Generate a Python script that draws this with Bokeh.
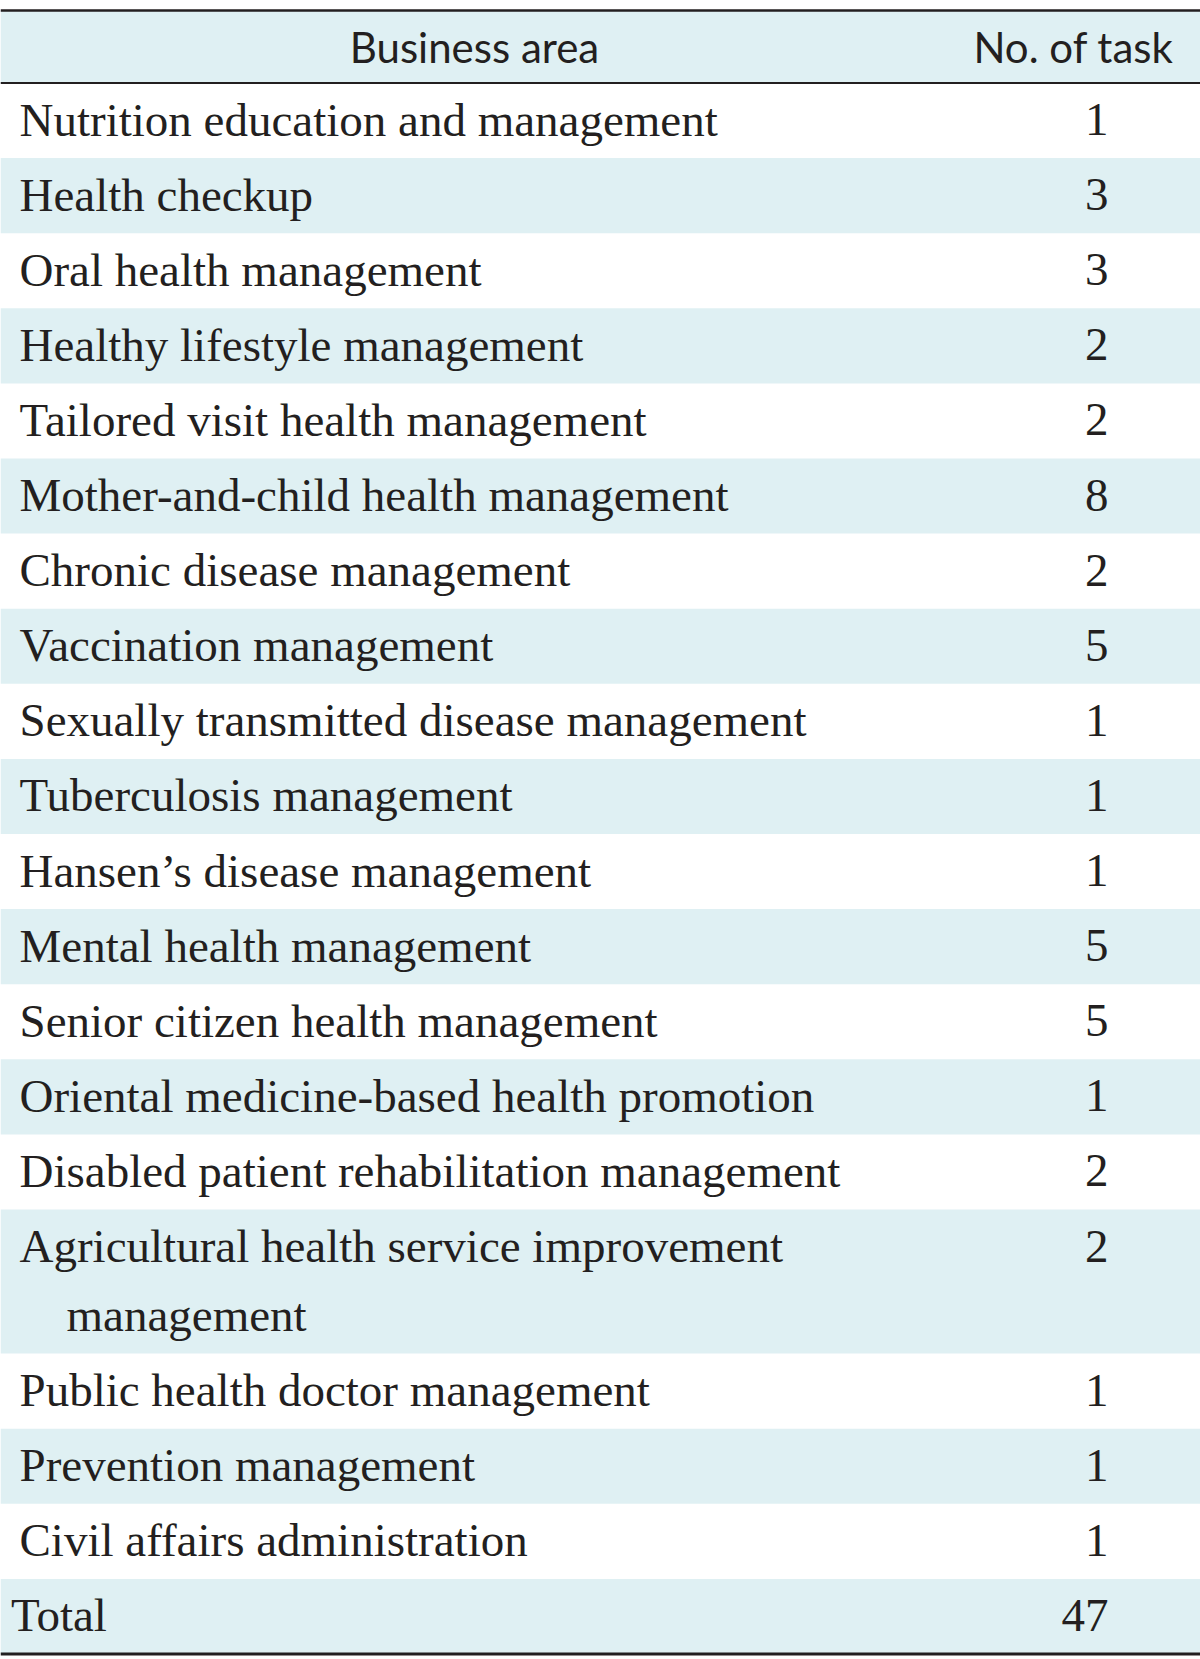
from bokeh.plotting import figure
from bokeh.models import Range1d
from bokeh.core.properties import value
from bokeh.embed import file_html
from bokeh.resources import INLINE

# ---- data ----
headers = ["Business area", "No. of task"]
areas = [
    "Nutrition education and management",
    "Health checkup",
    "Oral health management",
    "Healthy lifestyle management",
    "Tailored visit health management",
    "Mother-and-child health management",
    "Chronic disease management",
    "Vaccination management",
    "Sexually transmitted disease management",
    "Tuberculosis management",
    "Hansen\u2019s disease management",
    "Mental health management",
    "Senior citizen health management",
    "Oriental medicine-based health promotion",
    "Disabled patient rehabilitation management",
    "Agricultural health service improvement management",
    "Public health doctor management",
    "Prevention management",
    "Civil affairs administration",
]
tasks = [1, 3, 3, 2, 2, 8, 2, 5, 1, 1, 1, 5, 5, 1, 2, 2, 1, 1, 1]
total_label = "Total"
total_value = 47
wrapped = {
    "Agricultural health service improvement management":
        ["Agricultural health service improvement", "management"],
}

# ---- layout (pixel-like coordinates, y downward) ----
W = 1200
TOP = 10.0
HEADER_BOTTOM = 82.5
ROW_H = 75.1
LINE_GAP = 69.0
SHADE = "#dff0f3"
INK = "#231f20"
SERIF = "Liberation Serif"
SANS = "Lato"
BODY_SIZE = "47px"

p = figure(width=1200, height=1659, output_backend="svg", toolbar_location=None,
           x_range=Range1d(0, 1200), y_range=Range1d(1659, 0),
           min_border=0, outline_line_color=None, background_fill_color="white")
p.axis.visible = False
p.xgrid.visible = False
p.ygrid.visible = False

band_l, band_r, band_t, band_b = [], [], [], []
tx, ty, tt = [], [], []
nx, ny, nt = [], [], []

# header band
band_l.append(0); band_r.append(W); band_t.append(TOP); band_b.append(HEADER_BOTTOM)

y = HEADER_BOTTOM
rows = list(zip(areas, tasks)) + [(total_label, total_value)]
for i, (name, n) in enumerate(rows):
    lines = wrapped.get(name, [name])
    h = ROW_H + LINE_GAP * (len(lines) - 1)
    if i % 2 == 1:
        band_l.append(0); band_r.append(W); band_t.append(y); band_b.append(y + h)
    mid = y + ROW_H / 2 - 1
    is_total = name == total_label
    for k, ln in enumerate(lines):
        tx.append(10.5 if is_total else (19 if k == 0 else 66))
        ty.append(mid + k * LINE_GAP)
        tt.append(ln)
    nx.append(1108); ny.append(mid); nt.append(str(n))
    y += h
BOTTOM = y

p.quad(left=band_l, right=band_r, top=band_t, bottom=band_b,
       fill_color=SHADE, line_color=None)

# rules
p.segment(x0=[0, 0, 0], x1=[W, W, W], y0=[TOP, HEADER_BOTTOM, BOTTOM],
          y1=[TOP, HEADER_BOTTOM, BOTTOM], line_color=INK, line_width=[2.5, 2, 3])

# header text
p.text(x=[474, 1073], y=[46.5, 46.5], text=headers, text_font=value(SANS),
       text_font_size="42px", text_color=INK, text_align="center",
       text_baseline="middle")

p.text(x=tx, y=ty, text=tt, text_font=value(SERIF), text_font_size=BODY_SIZE,
       text_color=INK, text_align="left", text_baseline="middle")
p.text(x=nx, y=ny, text=nt, text_font=value(SERIF), text_font_size=BODY_SIZE,
       text_color=INK, text_align="right", text_baseline="middle")

open("out.html", "w").write(file_html(p, INLINE))
